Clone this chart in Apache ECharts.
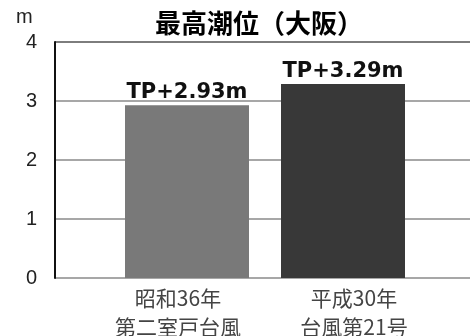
<!DOCTYPE html>
<html>
<head>
<meta charset="utf-8">
<script src="https://cdn.jsdelivr.net/npm/echarts@6/dist/echarts.min.js"></script>
<style>
html,body{margin:0;padding:0;background:#fff;}
#chart{width:470px;height:336px;}
</style>
</head>
<body>
<div id="chart"></div>
<script>
// 最高潮位（大阪）: two storm surge records
const categories = ['昭和36年\n第二室戸台風', '平成30年\n台風第21号'];
const tideLevels = [2.93, 3.29];
const barColors = ['#797979', '#383838'];
const valueLabels = ['TP+2.93m', 'TP+3.29m'];
const yTicks = [0, 1, 2, 3, 4];

const FONT = '"Liberation Sans", Arial, sans-serif';
const CJK = '"Noto Sans CJK JP", sans-serif';
const chart = echarts.init(document.getElementById('chart'));

chart.setOption({
  backgroundColor: '#fff',
  animation: false,
  title: {
    text: '最高潮位（大阪）',
    left: 254, top: 5, textAlign: 'center',
    textStyle: { fontFamily: CJK, fontSize: 26, fontWeight: 'bold', color: '#000' }
  },
  graphic: [
    { type: 'text', left: 16, top: 7, style: { text: 'm', fontFamily: FONT, fontSize: 20, fill: '#222' } },
    // top frame line
    { type: 'line', shape: { x1: 55, y1: 42, x2: 470, y2: 42 }, style: { stroke: '#222', lineWidth: 1.5 } }
  ],
  grid: [
    // frame grid: y scale, gridlines and left axis
    { left: 55, right: 0, top: 42, bottom: 58, outerBoundsMode: 'none', containLabel: false },
    // bar grid
    { left: 109, right: 49, top: 42, bottom: 58, outerBoundsMode: 'none', containLabel: false }
  ],
  xAxis: [
    { gridIndex: 0, type: 'category', data: [''], show: false },
    {
      gridIndex: 1, type: 'category', data: categories,
      axisLine: { show: false }, axisTick: { show: false },
      axisLabel: {
        margin: 6, color: '#444',
        formatter: (v, i) => v.split('\n').map(s => '{c' + i + '|' + s + '}').join('\n'),
        rich: {
          c0: { fontFamily: CJK, fontSize: 21, lineHeight: 29, color: '#444', padding: [0, 18, 0, 0] },
          c1: { fontFamily: CJK, fontSize: 21, lineHeight: 29, color: '#444', padding: [0, 0, 0, 22] }
        }
      }
    }
  ],
  yAxis: [
    {
      gridIndex: 0, type: 'value', min: 0, max: 4, interval: 1,
      axisLine: { show: true, lineStyle: { color: '#111', width: 2 } },
      axisTick: { show: false },
      axisLabel: {
        margin: 18, fontFamily: FONT, fontSize: 20, color: '#222',
        formatter: v => yTicks.includes(v) ? String(v) : ''
      },
      splitLine: { show: true, lineStyle: { color: '#8a8a8a', width: 1.5 } }
    },
    { gridIndex: 1, type: 'value', min: 0, max: 4, interval: 1, show: false, splitLine: { show: false } }
  ],
  series: [{
    type: 'bar',
    xAxisIndex: 1, yAxisIndex: 1,
    barWidth: 124,
    data: tideLevels.map((v, i) => ({ value: v, itemStyle: { color: barColors[i] } })),
    label: {
      show: true, position: 'top', distance: 2,
      fontFamily: '"DejaVu Sans", sans-serif', fontSize: 21, fontWeight: 'bold', color: '#111',
      formatter: p => valueLabels[p.dataIndex]
    }
  }]
});
</script>
</body>
</html>
